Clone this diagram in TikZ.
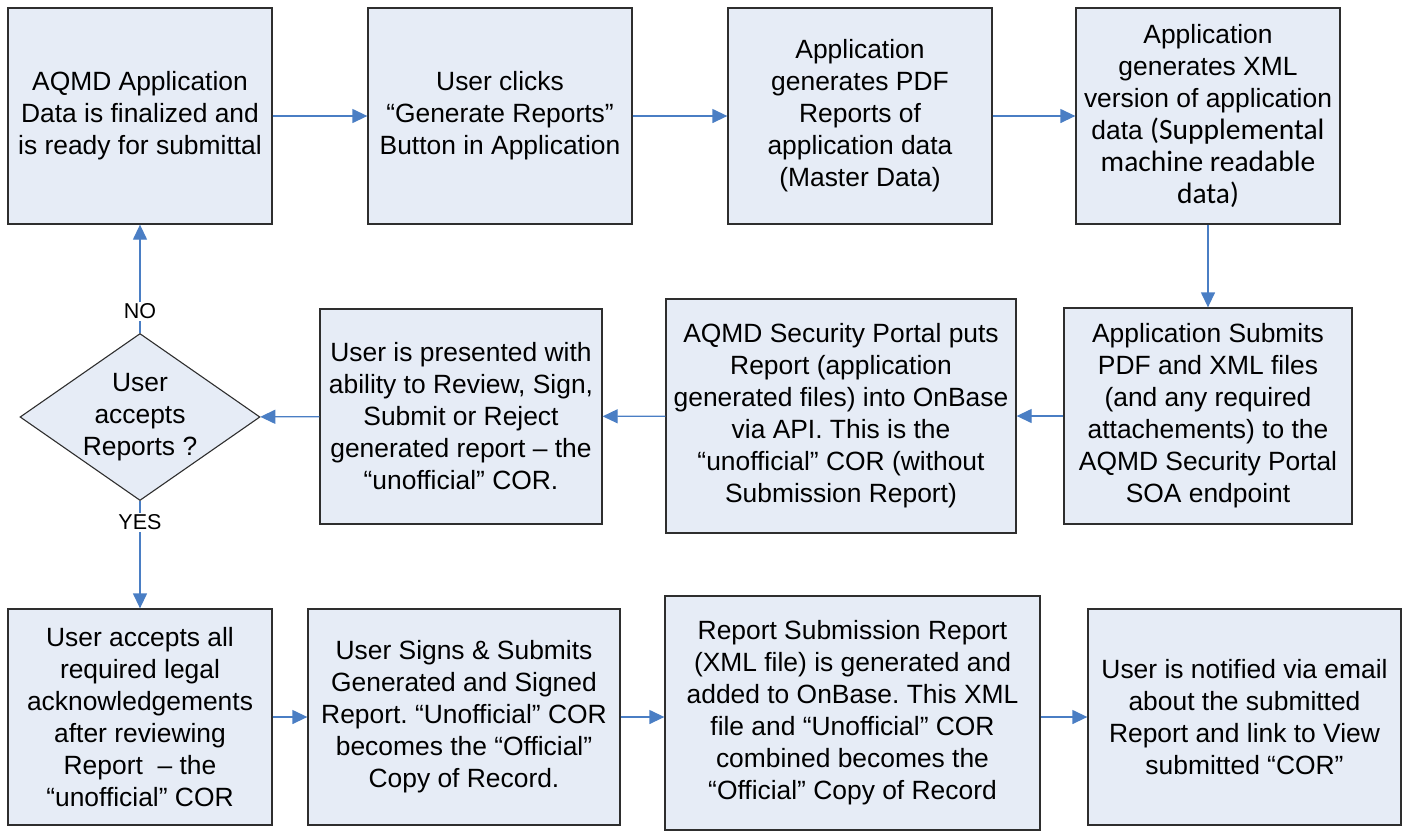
\documentclass[tikz,border=0pt]{standalone}
\usepackage{fontspec}
\setmainfont{Liberation Sans}
\newfontfamily\carlito{Carlito}
\usetikzlibrary{shapes.geometric,arrows.meta}
\frenchspacing
\definecolor{boxfill}{HTML}{E6ECF6}
\definecolor{boxline}{HTML}{2E2E2E}
\definecolor{arrowblue}{HTML}{4A7EC4}
\tikzset{
  x=1pt,y=-1pt,
  procbox/.style={draw=boxline,fill=boxfill,line width=1.3pt,align=center,inner sep=0pt,
    font=\fontsize{26.4}{32}\selectfont},
  decision/.style={diamond,draw=boxline,fill=boxfill,line width=1.1pt,inner sep=0pt,
    minimum width=240pt,minimum height=167pt},
  plaintext/.style={align=center,inner sep=0pt,font=\fontsize{26.4}{32}\selectfont},
  flow/.style={draw=arrowblue,line width=1.3pt,-{Triangle[length=15pt,width=14pt]}},
  branchlabel/.style={fill=white,inner sep=2pt,font=\fontsize{21.5}{24}\selectfont}
}
\begin{document}
\begin{tikzpicture}
\useasboundingbox (0,0) rectangle (1406,831);
% top row
\node[procbox,minimum width=264pt,minimum height=216pt] (b1) at (140,116)
  {AQMD Application\\Data is finalized and\\is ready for submittal};
\node[procbox,minimum width=264pt,minimum height=216pt] (b2) at (500,116)
  {User clicks\\``Generate Reports''\\Button in Application};
\node[procbox,minimum width=264pt,minimum height=216pt] (b3) at (860,116)
  {Application\\generates PDF\\Reports of\\application data\\(Master Data)};
\node[procbox,minimum width=264pt,minimum height=216pt] (b4) at (1208,116)
  {Application\\generates XML\\version of application\\data {\carlito\fontsize{29.5}{32}\selectfont (Supplemental}\\{\carlito\fontsize{29.5}{32}\selectfont machine readable}\\{\carlito\fontsize{29.5}{32}\selectfont data)}};
% middle row
\node[procbox,minimum width=288pt,minimum height=216pt] (b7) at (1208,416)
  {Application Submits\\PDF and XML files\\(and any required\\attachements) to the\\AQMD Security Portal\\SOA endpoint};
\node[procbox,minimum width=350pt,minimum height=234pt] (b6) at (841,416)
  {AQMD Security Portal puts\\Report (application\\generated files) into OnBase\\via API. This is the\\``unofficial'' COR (without\\Submission Report)};
\node[procbox,minimum width=282pt,minimum height=215pt] (b5) at (461,416.5)
  {User is presented with\\ability to Review, Sign,\\Submit or Reject\\generated report -- the\\``unofficial'' COR.};
\node[decision] (d) at (140,417) {};
\node[plaintext] (dtext) at (d.center) {User\\accepts\\Reports ?};
% bottom row
\node[procbox,minimum width=264pt,minimum height=216pt] (b8) at (140,717)
  {User accepts all\\required legal\\acknowledgements\\after reviewing\\Report~ -- the\\``unofficial'' COR};
\node[procbox,minimum width=312pt,minimum height=216pt] (b9) at (464,717)
  {User Signs \& Submits\\Generated and Signed\\Report. ``Unofficial'' COR\\becomes the ``Official''\\Copy of Record.};
\node[procbox,minimum width=375pt,minimum height=234pt] (b10) at (852.5,713)
  {Report Submission Report\\(XML file) is generated and\\added to OnBase. This XML\\file and ``Unofficial'' COR\\combined becomes the\\``Official'' Copy of Record};
\node[procbox,minimum width=313pt,minimum height=216pt] (b11) at (1244.5,717)
  {User is notified via email\\about the submitted\\Report and link to View\\submitted ``COR''};
% connectors
\draw[flow] (b1) -- (b2);
\draw[flow] (b2) -- (b3);
\draw[flow] (b3) -- (b4);
\draw[flow] (b4) -- (b7);
\draw[flow] (b7) -- (b6);
\draw[flow] (b6) -- (b5);
\draw[flow] (b5) -- (d);
\draw[flow] (d.north) -- node[branchlabel,pos=0.2] (no) {NO} (b1);
\draw[flow] (d.south) -- node[branchlabel,pos=0.2] (yes) {YES} (b8);
\draw[flow] (b8) -- (b9);
\draw[flow] (b9) -- (b9 -| b10.west);
\draw[flow] (b10.east |- b9) -- (b11);
\end{tikzpicture}
\end{document}
